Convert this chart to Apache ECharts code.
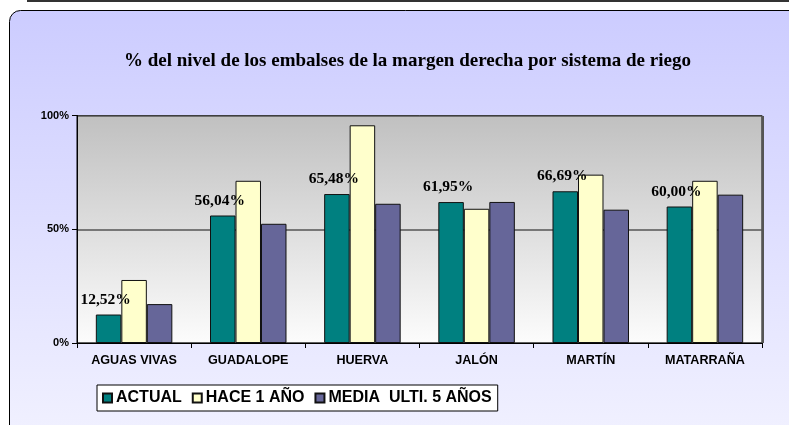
<!DOCTYPE html>
<html>
<head>
<meta charset="utf-8">
<script src="https://cdn.jsdelivr.net/npm/echarts@6/dist/echarts.min.js"></script>
<style>
html,body{margin:0;padding:0;background:#fff;}
#c{width:789px;height:425px;}
</style>
</head>
<body>
<div id="c"></div>
<script>
const titleText = '% del nivel de los embalses de la margen derecha por sistema de riego';
const categories = ['AGUAS VIVAS', 'GUADALOPE', 'HUERVA', 'JALÓN', 'MARTÍN', 'MATARRAÑA'];
const seriesNames = ['ACTUAL', 'HACE 1 AÑO', 'MEDIA  ULTI. 5 AÑOS'];
const actual = [12.52, 56.04, 65.48, 61.95, 66.69, 60.00];
const haceUnAno = [27.7, 71.3, 95.7, 59.0, 74.0, 71.3];
const media5 = [17.1, 52.4, 61.2, 62.0, 58.6, 65.2];
const yTicks = [0, 50, 100];

const chart = echarts.init(document.getElementById('c'), null, {renderer: 'canvas'});
const fmt = v => v.toFixed(2).replace('.', ',') + '%';
const barBorder = {borderColor: '#111', borderWidth: 1};

chart.setOption({
  animation: false,
  backgroundColor: '#fff',
  graphic: [
    {type: 'line', z: -10, shape: {x1: 27, y1: 1, x2: 789, y2: 1}, style: {stroke: '#333', lineWidth: 2}},
    {type: 'rect', z: -10, shape: {x: 9.5, y: 10.5, width: 820, height: 440, r: [11, 0, 0, 0]},
      style: {
        fill: new echarts.graphic.LinearGradient(0, 0, 0, 1, [
          {offset: 0, color: '#ccccff'}, {offset: 1, color: '#f2f2ff'}
        ]),
        stroke: '#000', lineWidth: 1
      }},
    {type: 'line', z: 10, shape: {x1: 763, y1: 116, x2: 763, y2: 343}, style: {stroke: '#555', lineWidth: 2}}
  ],
  title: {
    text: titleText,
    left: 119,
    top: 47,
    textStyle: {fontFamily: 'Liberation Serif', fontWeight: 'bold', fontSize: 19, color: '#000'}
  },
  legend: {
    left: 97,
    top: 385,
    itemWidth: 9,
    itemHeight: 9,
    itemGap: 10,
    padding: [5, 6, 5, 5],
    backgroundColor: '#fff',
    borderColor: '#000',
    borderWidth: 1,
    textStyle: {fontFamily: 'Liberation Sans', fontWeight: 'bold', fontSize: 16, color: '#000', padding: [0, 0, 0, -1]},
    data: seriesNames.map(n => ({name: n, icon: 'rect'}))
  },
  grid: {
    left: 77, right: 27, top: 115.5, bottom: 82,
    show: true,
    backgroundColor: new echarts.graphic.LinearGradient(0, 0, 0, 1, [
      {offset: 0, color: '#c0c0c0'}, {offset: 1, color: '#fcfcfc'}
    ]),
    borderColor: '#000',
    borderWidth: 1
  },
  xAxis: {
    type: 'category',
    data: categories,
    axisLine: {lineStyle: {color: '#000', width: 1}},
    axisTick: {show: true, length: 5, lineStyle: {color: '#000'}},
    axisLabel: {margin: 11, fontFamily: 'Liberation Sans', fontWeight: 'bold', fontSize: 12.6, color: '#000', interval: 0}
  },
  yAxis: {
    type: 'value',
    min: yTicks[0], max: yTicks[yTicks.length - 1], interval: yTicks[1] - yTicks[0],
    axisLine: {show: true, lineStyle: {color: '#000', width: 1}},
    axisTick: {show: true, length: 5, lineStyle: {color: '#000'}},
    axisLabel: {formatter: '{value}%', margin: 8, fontFamily: 'Liberation Sans', fontWeight: 'bold', fontSize: 11, color: '#000'},
    splitLine: {show: true, lineStyle: {color: '#555', width: 1.5}}
  },
  series: [
    {name: seriesNames[0], type: 'bar', data: actual, barGap: '0%', barCategoryGap: '33%',
      itemStyle: Object.assign({color: '#008080'}, barBorder),
      label: {show: true, position: 'top', distance: 7, offset: [-3, 0], formatter: p => fmt(p.value),
        fontFamily: 'Liberation Serif', fontWeight: 'bold', fontSize: 15.5, color: '#000'}},
    {name: seriesNames[1], type: 'bar', data: haceUnAno, barGap: '0%', barCategoryGap: '33%',
      itemStyle: Object.assign({color: '#ffffcc'}, barBorder)},
    {name: seriesNames[2], type: 'bar', data: media5, barGap: '0%', barCategoryGap: '33%',
      itemStyle: Object.assign({color: '#666699'}, barBorder)}
  ]
});
</script>
</body>
</html>
